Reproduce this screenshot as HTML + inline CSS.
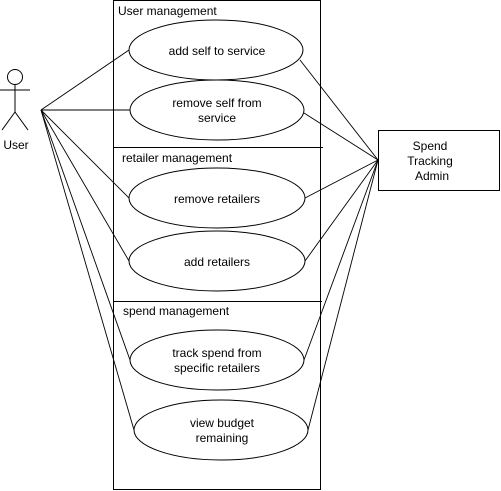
<!DOCTYPE html>
<html><head><style>html,body{margin:0;padding:0;background:#fff;}svg{display:block}</style></head>
<body>
<svg width="501" height="491" xmlns="http://www.w3.org/2000/svg" font-family="Liberation Sans, sans-serif" font-size="12" fill="none" stroke="#000" stroke-width="1">
<rect x="113.5" y="0.5" width="207" height="489" fill="#fff"/>
<line x1="113" y1="147.5" x2="323" y2="147.5"/>
<line x1="113" y1="301.5" x2="322" y2="301.5"/>
<g stroke-width="0.9">
<line x1="41" y1="110" x2="129" y2="50"/>
<line x1="41" y1="110" x2="130" y2="110"/>
<line x1="41" y1="110" x2="129" y2="198"/>
<line x1="41" y1="110" x2="129" y2="261"/>
<line x1="41" y1="110" x2="130" y2="360"/>
<line x1="41" y1="110" x2="134" y2="430"/>
<line x1="300" y1="60" x2="378" y2="160"/>
<line x1="304" y1="113" x2="378" y2="160"/>
<line x1="305" y1="198" x2="378" y2="160"/>
<line x1="305" y1="261" x2="378" y2="160"/>
<line x1="304" y1="360" x2="378" y2="160"/>
<line x1="308" y1="430" x2="378" y2="160"/>
</g>
<g fill="#fff">
<ellipse cx="216" cy="50" rx="87" ry="30"/>
<ellipse cx="217" cy="110" rx="87" ry="30"/>
<ellipse cx="217" cy="198" rx="88" ry="30"/>
<ellipse cx="217" cy="261" rx="88" ry="30"/>
<ellipse cx="217" cy="360" rx="87" ry="30"/>
<ellipse cx="221" cy="430" rx="87" ry="30"/>
<rect x="378.5" y="130.5" width="121" height="60"/>
</g>
<circle cx="15" cy="77" r="7.5"/>
<line x1="15" y1="85" x2="15" y2="112"/>
<line x1="0" y1="90" x2="30" y2="90"/>
<line x1="15" y1="112" x2="2" y2="130"/>
<line x1="15" y1="112" x2="28" y2="130"/>
<g fill="#000" stroke="none">
<text x="16" y="149" text-anchor="middle">User</text>
<text x="118" y="15">User management</text>
<text x="122" y="162">retailer management</text>
<text x="123" y="315">spend management</text>
<g text-anchor="middle">
<text x="217" y="55">add self to service</text>
<text x="217" y="107">remove self from</text>
<text x="217" y="122">service</text>
<text x="217" y="203">remove retailers</text>
<text x="217" y="266">add retailers</text>
<text x="217" y="357">track spend from</text>
<text x="217" y="372">specific retailers</text>
<text x="222" y="427">view budget</text>
<text x="222" y="442">remaining</text>
<text x="430" y="150">Spend</text>
<text x="430" y="165">Tracking</text>
<text x="432" y="180">Admin</text>
</g>
</g>
</svg>
</body></html>
